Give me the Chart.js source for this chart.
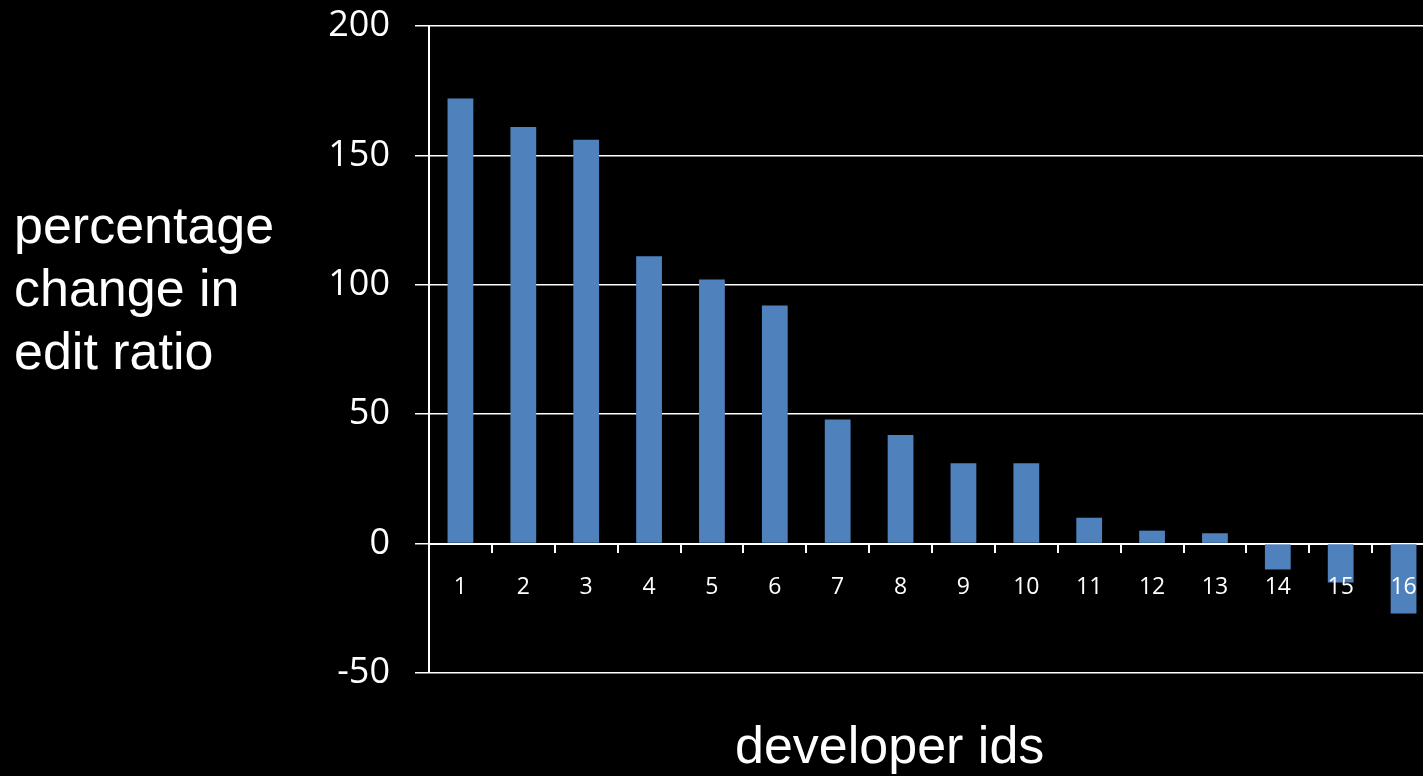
<!DOCTYPE html>
<html>
<head>
<meta charset="utf-8">
<script src="https://cdn.jsdelivr.net/npm/chart.js@4/dist/chart.umd.min.js"></script>
<style>
    html, body { margin: 0; padding: 0; background: #000; overflow: hidden; }
    #wrap { position: absolute; left: 0; top: 0; width: 1440px; height: 776px; }
    .label {
        position: absolute;
        color: #fff;
        font-family: "Liberation Sans", Arial, sans-serif;
        font-size: 52px;
        white-space: nowrap;
    }
    #yTitle { left: 14px; top: 194px; line-height: 63px; }
    #xTitle { left: 735px; top: 719px; line-height: 52px; }
</style>
</head>
<body>
<div id="wrap"><canvas id="myChart"></canvas></div>
<div class="label" id="yTitle">percentage<br>change in<br>edit ratio</div>
<div class="label" id="xTitle">developer ids</div>
<script>
// Developer ids along the x axis
const developerIds = ["1", "2", "3", "4", "5", "6", "7", "8", "9", "10", "11", "12", "13", "14", "15", "16"];
// Percentage change in edit ratio
const changeValues = [172, 161, 156, 111, 102, 92, 48, 42, 31, 31, 10, 5, 4, -10, -15, -27];
// Y axis range and step
const yMin = -50;
const yMax = 200;
const yStep = 50;

const barColor = "#4F81BD";

// Build the bar chart
function main() {
    new Chart(document.getElementById("myChart"), {
        type: "bar",
        data: {
            labels: developerIds,
            datasets: [{
                backgroundColor: barColor,
                data: changeValues,
                barPercentage: 0.41,
                categoryPercentage: 1.0
            }]
        },
        options: {
            responsive: true,
            maintainAspectRatio: false,
            animation: false,
            layout: { padding: { left: 0, top: 26, right: 5, bottom: 103 } },
            plugins: {
                legend: { display: false },
                tooltip: { enabled: false }
            },
            scales: {
                x: {
                    position: { y: 0 },
                    grid: {
                        offset: true,
                        drawOnChartArea: false,
                        drawTicks: true,
                        tickLength: 8,
                        color: "#fff",
                        lineWidth: 2
                    },
                    border: { display: true, color: "#fff", width: 2 },
                    ticks: {
                        z: 1,  // labels sit on top of the negative bars
                        color: "#fff",
                        font: { family: "Open Sans", size: 23 },
                        padding: 22,
                        maxRotation: 0,
                        autoSkip: false
                    }
                },
                y: {
                    min: yMin,
                    max: yMax,
                    ticks: {
                        stepSize: yStep,
                        color: "#fff",
                        font: { family: "Open Sans", size: 36 },
                        padding: 25
                    },
                    grid: { color: "#fff", lineWidth: 1.5, tickLength: 14 },
                    border: { color: "#fff", width: 2 },
                    afterFit: (scale) => {
                        scale.width = 429;
                        scale.paddingTop = 0;
                        scale.paddingBottom = 0;
                    }
                }
            }
        }
    });
}

document.addEventListener("DOMContentLoaded", main);
</script>
</body>
</html>
